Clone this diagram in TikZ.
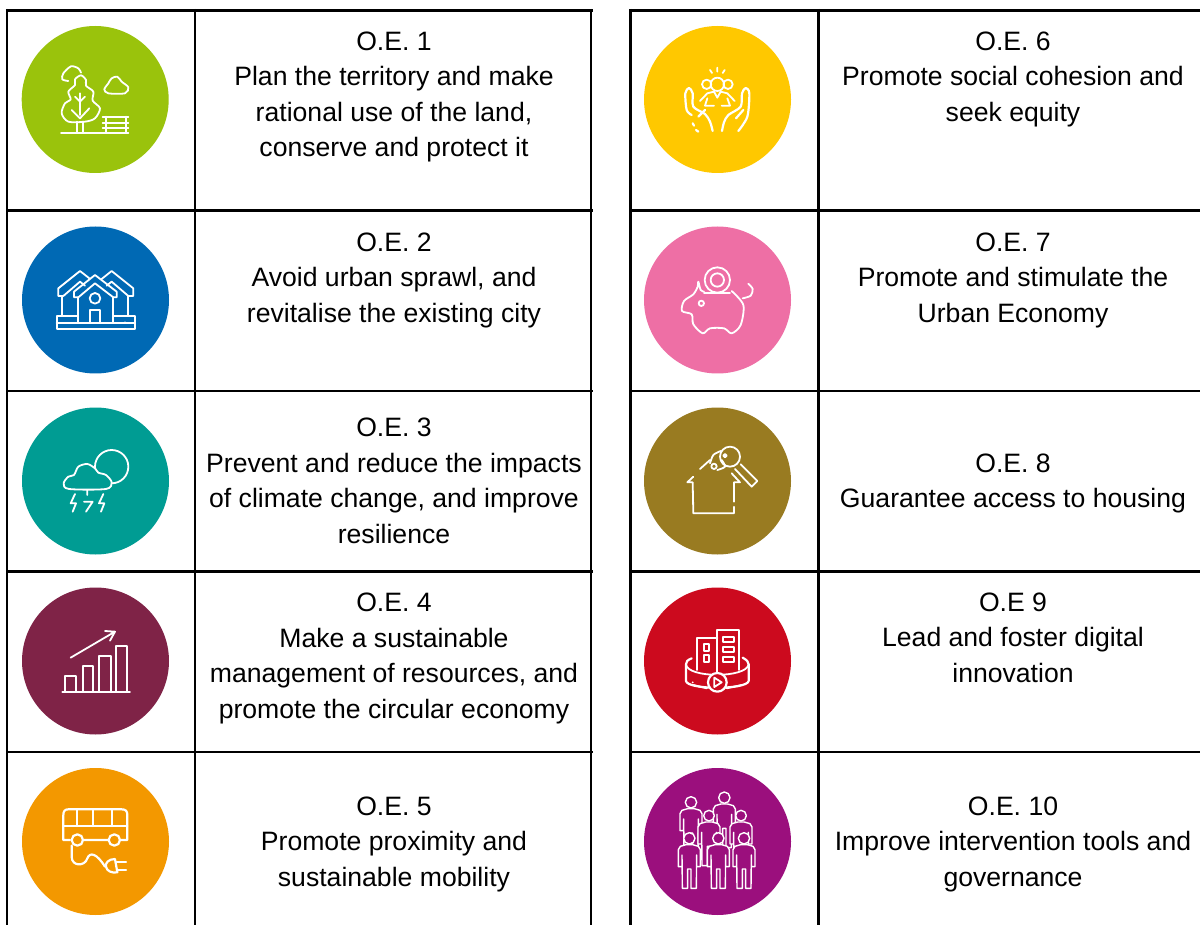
\documentclass[tikz,border=0pt]{standalone}
\usepackage{fontspec}
\setmainfont{Liberation Sans}
\definecolor{cgreen}{HTML}{9AC30C}
\definecolor{cblue}{HTML}{0069B4}
\definecolor{cteal}{HTML}{009C93}
\definecolor{cmaroon}{HTML}{7F2347}
\definecolor{corange}{HTML}{F39800}
\definecolor{cyellow}{HTML}{FFC800}
\definecolor{cpink}{HTML}{EE6FA5}
\definecolor{colive}{HTML}{997B21}
\definecolor{cred}{HTML}{CC0A1E}
\definecolor{cpurple}{HTML}{9B0F7D}
\tikzset{
  rule/.style={draw=black,line width=2.6pt,line cap=butt},
  disc/.style={circle,minimum size=147pt,inner sep=0pt,outer sep=0pt,fill=#1},
  oetext/.style={align=center,inner sep=0pt,font=\fontsize{26.6}{35.4}\selectfont,
    text=black,execute at begin node=\strut,execute at end node=\strut},
  zoomed/.style={x=.33333pt,y=-.33333pt},
  ico/.style={draw=white,line width=1.8pt,line cap=round,line join=round},
  icob/.style={draw=white,line width=2.2pt,line cap=round,line join=round},
}
\newcommand{\oeperson}[3]{%
  \begin{scope}[shift={(#1,#2)}]
    \path[ico,fill=cpurple,line width=1.4pt] (-10,19) -- (-27,24) -- (-33,34) -- (-33,85) -- (-22,85) -- (-22,50)
      -- (-21,150) -- (-5,150) -- (-5,92) -- (5,92) -- (5,150) -- (21,150) -- (22,50)
      -- (22,85) -- (33,85) -- (33,34) -- (27,24) -- (10,19) -- cycle;
    \path[ico,fill=cpurple,line width=1.4pt] (0,0) circle[radius=#3];
  \end{scope}}
\begin{document}
\begin{tikzpicture}[x=1pt,y=-1pt]
\useasboundingbox (0,0) rectangle (1200,925);
\fill[white] (0,0) rectangle (1200,925);
% table rules
\foreach \yy in {210.5,391,571.5,752}{
  \draw[rule] (6,\yy) -- (592.5,\yy);
  \draw[rule] (629,\yy) -- (1200,\yy);
}
\draw[rule,line width=3pt] (5.8,10.5) -- (592.5,10.5);
\draw[rule,line width=3pt] (629,10.5) -- (1200,10.5);
\foreach \xx in {7,195,591,630.5,818.5}{
  \draw[rule] (\xx,9) -- (\xx,925);
}
% discs
\node[disc=cgreen]  (d1)  at (95.2,99.5) {};
\node[disc=cblue]   (d2)  at (95.5,300) {};
\node[disc=cteal]   (d3)  at (95.5,481) {};
\node[disc=cmaroon] (d4)  at (95.5,661) {};
\node[disc=corange] (d5)  at (95.5,841.5) {};
\node[disc=cyellow] (d6)  at (717.5,99.5) {};
\node[disc=cpink]   (d7)  at (717.5,300) {};
\node[disc=colive]  (d8)  at (717.5,481) {};
\node[disc=cred]    (d9)  at (717.5,661) {};
\node[disc=cpurple] (d10) at (717.5,841.5) {};
% texts
\node[oetext] (t1) at (394,99.5) {O.E. 1\\Plan the territory and make\\rational use of the land,\\conserve and protect it};
\node[oetext] (t2) at (394,283) {O.E. 2\\Avoid urban sprawl, and\\revitalise the existing city};
\node[oetext] (t3) at (394,486) {O.E. 3\\Prevent and reduce the impacts\\of climate change, and improve\\resilience};
\node[oetext] (t4) at (394,661) {O.E. 4\\Make a sustainable\\management of resources, and\\promote the circular economy};
\node[oetext] (t5) at (394,847) {O.E. 5\\Promote proximity and\\sustainable mobility};
\node[oetext] (t6) at (1013,82) {O.E. 6\\Promote social cohesion and\\seek equity};
\node[oetext] (t7) at (1013,283) {O.E. 7\\Promote and stimulate the\\Urban Economy};
\node[oetext] (t8) at (1013,486) {O.E. 8\\Guarantee access to housing};
\node[oetext] (t9) at (1013,643) {O.E 9\\Lead and foster digital\\innovation};
\node[oetext] (t10) at (1013,847) {O.E. 10\\Improve intervention tools and\\governance};
% icon 1
\begin{scope}[shift={(0,0)},zoomed]
  \path[ico] plot[smooth] coordinates {(205,243) (187,238) (190,220) (213,199) (235,205) (243,218)};
  \path[ico] plot[smooth cycle] coordinates {(243,226) (258,240) (258,257) (280,275) (278,302) (300,325) (285,355) (255,365) (205,365) (185,340) (195,310) (212,298) (205,275) (225,255) (225,238)};
  \path[ico] (183,398) -- (385,398);
  \path[ico] (232,365) -- (232,398) (248,365) -- (248,398) (240,280) -- (240,345);
  \path[ico] (225,290) -- (240,305) -- (255,290) (215,330) -- (240,355) -- (268,325);
  \path[ico] plot[smooth cycle] coordinates {(325,280) (313,268) (325,250) (335,235) (352,230) (365,245) (385,262) (375,280)};
  \path[ico] (308,350) -- (385,350) (308,368) -- (385,368) (308,385) -- (385,385) (318,350) -- (318,398) (378,350) -- (378,398);
\end{scope}
% icon 2
\begin{scope}[shift={(0,210)},zoomed]
  \path[ico] (230,318) -- (170,318) -- (170,358) -- (405,358) -- (405,318) -- (340,318);
  \path[ico] (170,338) -- (405,338);
  \path[ico] (268,205) -- (240,183) -- (175,235) -- (175,258) -- (190,258) -- (240,215) -- (255,227);
  \path[ico] (305,207) -- (335,183) -- (400,235) -- (400,258) -- (385,258) -- (335,215) -- (320,227);
  \path[ico] (185,258) -- (185,318) (385,258) -- (385,318);
  \path[ico] (235,262) -- (222,262) -- (222,245) -- (285,195) -- (350,245) -- (350,262) -- (340,262) -- (285,220) -- (235,262);
  \path[ico] (235,262) -- (235,338) (340,262) -- (340,338);
  \path[ico] (285,265) circle[radius=16];
  \path[ico] (270,338) -- (270,300) -- (300,300) -- (300,338);
  \fill[white] (375,337) circle[radius=3];
\end{scope}
% icon 3
\begin{scope}[shift={(0,395)},zoomed]
  \path[ico] (335,215) circle[radius=50];
  \path[ico,fill=cteal] plot[smooth cycle] coordinates {(207,282) (191,265) (205,245) (222,240) (235,215) (262,207) (285,220) (295,233) (318,240) (335,262) (318,282)};
  \path[ico] (225,297) -- (212,325) -- (228,325) -- (218,350);
  \path[ico] (262,285) -- (262,300) (252,320) -- (278,320) -- (258,350);
  \path[ico] (310,297) -- (297,325) -- (313,325) -- (303,350);
\end{scope}
% icon 4
\begin{scope}[shift={(0,575)},zoomed]
  \path[ico] (187,350) -- (390,350);
  \path[ico] (195,350) -- (195,302) -- (228,302) -- (228,350);
  \path[ico] (248,350) -- (248,272) -- (280,272) -- (280,350);
  \path[ico] (298,350) -- (298,243) -- (333,243) -- (333,350);
  \path[ico] (347,350) -- (347,214) -- (382,214) -- (382,350);
  \path[ico] (212,248) -- (345,170) (315,168) -- (345,170) -- (330,197);
\end{scope}
% icon 5
\begin{scope}[shift={(0,755)},zoomed]
  \path[icob] (210,255) -- (190,255) -- (190,180) .. controls (190,168) and (195,163) .. (205,163) -- (365,163) .. controls (377,163) and (382,168) .. (382,180) -- (382,255) -- (362,255);
  \path[icob] (190,213) -- (382,213) (232,163) -- (232,213) (278,163) -- (278,213) (335,163) -- (335,213);
  \path[icob] (232,255) circle[radius=17] (343,255) circle[radius=17] (250,255) -- (325,255);
  \path[icob] (215,272) -- (215,305) .. controls (215,335) and (255,335) .. (262,310) .. controls (270,290) and (290,295) .. (315,335);
  \path[icob] (345,312) .. controls (325,312) and (315,325) .. (318,335) .. controls (320,348) and (335,355) .. (352,352) -- cycle;
  \path[icob] (350,322) -- (378,322) (352,345) -- (378,345);
\end{scope}
% icon 6
\begin{scope}[shift={(630,15)},zoomed]
  \path[ico] (262,158) -- (262,170) (240,165) -- (246,174) (284,165) -- (278,174);
  \path[ico] (230,208) circle[radius=14] (294,208) circle[radius=14] (262,208) circle[radius=20];
  \path[ico] (210,258) -- (232,235) -- (252,230) -- (262,248) -- (272,230) -- (292,235) -- (314,258);
  \path[ico] (225,272) -- (232,250) (300,272) -- (292,250) (225,272) -- (252,272) (275,272) -- (300,272);
  \path[icob] plot[smooth] coordinates {(185,300) (170,285) (166,235) (177,219) (188,235) (190,275) (225,297) (240,320) (248,348)};
  \path[icob] plot[smooth] coordinates {(325,348) (352,305) (358,235) (347,219) (336,235) (332,275) (295,300) (282,322) (276,348)};
  \path[icob] (198,345) -- (205,350) (188,325) -- (192,332) (205,305) -- (225,285) (318,310) -- (340,285);
\end{scope}
% icon 7
\begin{scope}[shift={(630,215)},zoomed]
  \path[ico] (262,195) circle[radius=38] (262,195) circle[radius=20];
  \path[ico] (222,235) -- (300,235);
  \path[ico] plot[smooth] coordinates {(222,230) (212,225) (205,200) (203,215) (190,238) (162,258) (156,288) (185,298) (190,328) (218,355) (240,340) (282,340) (305,355) (332,330) (340,270) (305,228)};
  \path[ico] plot[smooth] coordinates {(338,250) (362,242) (368,222) (355,206)};
  \path[ico] (214,265) circle[radius=8];
\end{scope}
% icon 8
\begin{scope}[shift={(630,395)},zoomed]
  \path[ico] (190,245) -- (172,262) -- (188,262) -- (190,355) -- (312,355) -- (312,335);
  \path[ico] (312,320) -- (312,262) -- (330,262) -- (305,235);
  \path[ico] (210,222) -- (240,195);
  \path[ico] (300,185) circle[radius=30];
  \path[ico] (315,222) -- (365,275) -- (382,258) -- (332,208);
  \path[ico] plot[smooth] coordinates {(240,205) (250,180) (272,168)};
  \path[ico] (285,182) circle[radius=5] (252,214) circle[radius=8];
  \path[ico] plot[smooth] coordinates {(262,225) (285,215) (275,195)};
\end{scope}
% icon 9
\begin{scope}[shift={(630,575)},zoomed]
  \path[ico] (202,285) -- (202,190) -- (262,190) (262,290) -- (262,165) -- (328,165) -- (328,285);
  \path[ico] (222,208) rectangle (238,228) (222,240) rectangle (238,260);
  \path[ico] (278,185) rectangle (312,200) (278,215) rectangle (312,232) (278,245) rectangle (312,262);
  \path[icob] (185,250) .. controls (172,255) and (168,260) .. (168,268) -- (168,318) .. controls (172,345) and (350,345) .. (356,318) -- (356,268) .. controls (356,260) and (350,255) .. (338,248);
  \path[ico] (168,268) .. controls (172,310) and (350,310) .. (356,268);
  \path[ico] (190,330) -- (230,340) (290,340) -- (335,330);
  \path[icob,fill=cred] (262,322) circle[radius=28];
  \path[ico] (253,308) -- (275,322) -- (253,336) -- cycle;
  \fill[white] (188,322) circle[radius=3];
\end{scope}
% icon 10
\begin{scope}[shift={(630,755)},zoomed]
  \oeperson{183}{142}{17}
  \oeperson{283}{128}{17}
  \oeperson{237}{182}{16}
  \oeperson{333}{182}{16}
  \oeperson{178}{250}{17}
  \oeperson{265}{250}{17}
  \oeperson{342}{250}{17}
\end{scope}
\end{tikzpicture}
\end{document}
